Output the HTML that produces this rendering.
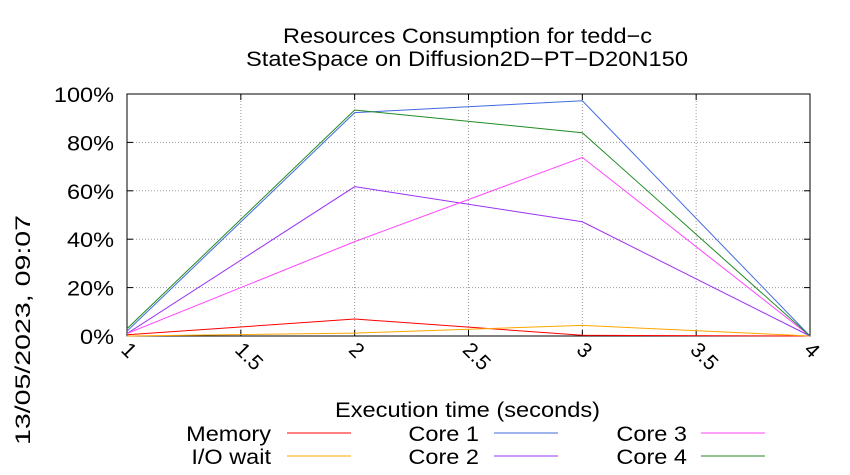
<!DOCTYPE html>
<html><head><meta charset="utf-8"><style>
body{margin:0;background:#fff;}
svg{display:block;font-family:"Liberation Sans",sans-serif;}
</style></head><body>
<svg id="chart" width="850" height="475">
<text x="283" y="43" font-size="21" textLength="369" lengthAdjust="spacingAndGlyphs">Resources Consumption for tedd−c</text>
<text x="246" y="66" font-size="21" textLength="442" lengthAdjust="spacingAndGlyphs">StateSpace on Diffusion2D−PT−D20N150</text>
<text transform="translate(30,445) rotate(-90)" font-size="21" textLength="230" lengthAdjust="spacingAndGlyphs">13/05/2023, 09:07</text>
<text x="335" y="417" font-size="21" textLength="265" lengthAdjust="spacingAndGlyphs">Execution time (seconds)</text>
<g id="grid"></g><g id="axes"></g><g id="series"></g><g id="legend"></g>
</svg>
<script>
const xTicks=[1,1.5,2,2.5,3,3.5,4];
const xTickLabels=["1","1.5","2","2.5","3","3.5","4"];
const yTicks=[0,20,40,60,80,100];
const yTickLabels=["0%","20%","40%","60%","80%","100%"];
const times=[1,2,3,4];
const memory=[0.5,7,0.3,0];
const ioWait=[0,1.2,4.4,0];
const core1=[2,92.3,97.2,0];
const core2=[1,61.7,47.2,0];
const core3=[1,39,73.8,0];
const core4=[3,93.4,84,0];
const seriesNames=["Memory","I/O wait","Core 1","Core 2","Core 3","Core 4"];
const seriesColors=["#ff0000","#ffa500","#4169e1","#9932f5","#ff44ff","#228b22"];
const seriesData=[memory,ioWait,core1,core2,core3,core4];
const NS="http://www.w3.org/2000/svg";
const X0=127,X1=810,Y0=336,Y1=94;
const xs=v=>X0+(v-1)/3*(X1-X0);
const ys=v=>Y0-v/100*(Y0-Y1);
function mk(t,a,p){const e=document.createElementNS(NS,t);for(const k in a)e.setAttribute(k,a[k]);p.appendChild(e);return e;}
const grid=document.getElementById('grid'),axes=document.getElementById('axes'),ser=document.getElementById('series'),leg=document.getElementById('legend');
yTicks.forEach((t,i)=>{
 const l=mk('line',{x1:X0,x2:X1,y1:ys(t),y2:ys(t),stroke:'#999','stroke-dasharray':'1,2'},grid);
 
 
 const tx=mk('text',{x:X0-13,y:ys(t)+8,'font-size':21,'text-anchor':'end',transform:`translate(${X0-13},0) scale(1.12,1) translate(${-(X0-13)},0)`},axes);
 tx.textContent=yTickLabels[i];
 
 
 mk('line',{x1:X0,x2:X0+6,y1:ys(t),y2:ys(t),stroke:'#000'},axes);
 mk('line',{x1:X1,x2:X1-6,y1:ys(t),y2:ys(t),stroke:'#000'},axes);
});
xTicks.forEach((t,i)=>{
 const l=mk('line',{x1:xs(t),x2:xs(t),y1:Y0,y2:Y1,stroke:'#999','stroke-dasharray':'1,2'},grid);
 
 
 mk('line',{x1:xs(t),x2:xs(t),y1:Y0,y2:Y0-6,stroke:'#000'},axes);
 mk('line',{x1:xs(t),x2:xs(t),y1:Y1,y2:Y1+6,stroke:'#000'},axes);
 const tx=mk('text',{transform:`translate(${xs(t)-7},${Y0+15}) rotate(45)`,'font-size':21},axes);
 tx.textContent=xTickLabels[i];
 
 
});
const fr=mk('rect',{x:X0,y:Y1,width:X1-X0,height:Y0-Y1,fill:'none',stroke:'#000'},axes);


const legPos=[[271,287,433],[271,287,456],[479,494,433],[479,494,456],[687,701,433],[687,701,456]];
seriesData.forEach((d,i)=>{
 const pl=mk('polyline',{points:d.map((v,j)=>xs(times[j])+','+ys(v)).join(' '),fill:'none',stroke:seriesColors[i],'stroke-width':1},ser);
 
 
 const p=legPos[i];
 const tx=mk('text',{x:p[0],y:p[2]+8,'font-size':21,'text-anchor':'end',transform:`translate(${p[0]},0) scale(1.12,1) translate(${-p[0]},0)`},leg);
 tx.textContent=seriesNames[i];
 
 
 const ll=mk('line',{x1:p[1],x2:p[1]+64,y1:p[2],y2:p[2],stroke:seriesColors[i]},leg);
 
 
});
</script>
</body></html>
